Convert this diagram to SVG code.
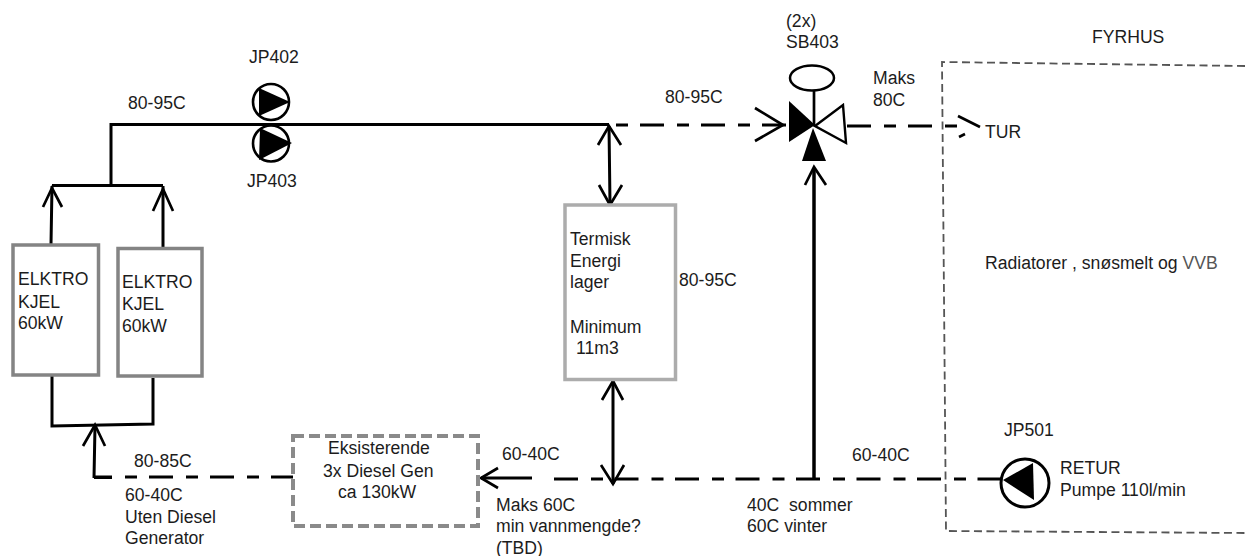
<svg xmlns="http://www.w3.org/2000/svg" width="1245" height="556" viewBox="0 0 1245 556">
<style>
text{font-family:"Liberation Sans",Arial,sans-serif;font-size:17.6px;fill:#1c1c1c}
.p{fill:none;stroke:#000;stroke-width:3}
.w{fill:none;stroke:#000;stroke-width:3.5}
.v{fill:none;stroke:#000;stroke-width:2.7}
.d{fill:none;stroke:#000;stroke-width:3;stroke-dasharray:24 13 12 12}
.box{fill:#fff;stroke:#848484;stroke-width:3.5}
.o{fill:#fff;stroke:#000;stroke-width:2.6}
</style>
<rect width="1245" height="556" fill="#fff"/>
<g id="connectors">
<path class="p" d="M609 124.500H111V185M52 185.500H163M51 244L52 186M163 248V186"/>
<path class="v" d="M43 207L52 188L62 207M153 211L163 189L173 211"/>
<path class="p" d="M52 376V426L153 424V378M94 478L95 426M94 477.500H112"/>
<path class="v" d="M83 446L95 425L105 446"/>
<path class="d" d="M94 477H295" style="stroke-dashoffset:6"/>
<path class="d" d="M616 125H786" style="stroke-dashoffset:37"/>
<path class="v" d="M755 108L783 125L755 141"/>
<path class="d" d="M847 126H958"/>
<path class="v" d="M958 116L980 127M959 137L965 134"/>
<path class="p" d="M609 126L610 204M613 381V484"/>
<path class="v" d="M598 145L609 126L621 145M599 185L610 205L622 185M602 400L613 381L623 400M601 465L613 484L624 465"/>
<path class="w" d="M814 478V169"/>
<path class="v" d="M805 185L814 167L826 185"/>
<path class="d" d="M554 479H1003" style="stroke-dasharray:24 13 12 11.500"/>
<path class="v" d="M498 468L481 478L498 488"/>
<path class="p" d="M481 478H532"/>
</g>
<g id="elkto1"><rect class="box" x="13" y="245" width="85.500" height="130"/><text x="18" y="285">ELKTRO</text><text x="18" y="308">KJEL</text><text x="18" y="329">60kW</text></g>
<g id="elkto2"><rect class="box" x="118" y="248.500" width="84" height="127.500"/><text x="122" y="288">ELKTRO</text><text x="122" y="310">KJEL</text><text x="122" y="332">60kW</text></g>
<g id="lager"><rect x="565" y="205" width="110.500" height="174.500" fill="#fff" stroke="#acacac" stroke-width="3.500"/><text x="570" y="245">Termisk</text><text x="570" y="267">Energi</text><text x="570" y="288">lager</text><text x="570" y="333">Minimum</text><text x="576" y="354">11m3</text></g>
<g id="diesel"><rect x="293" y="436" width="185" height="90" fill="#fff" stroke="#8a8a8a" stroke-width="4" stroke-dasharray="11 5"/><text x="328" y="454">Eksisterende</text><text x="323" y="477">3x Diesel Gen</text><text x="338" y="498">ca 130kW</text></g>
<g id="jp402"><circle class="o" cx="271" cy="102" r="18"/><path d="M259 88L290 102L259 116Z"/><text x="249" y="63">JP402</text></g>
<g id="jp403"><circle class="o" cx="271" cy="143.500" r="18"/><path d="M260 128L292 143L259 160Z"/><text x="247" y="187">JP403</text></g>
<g id="sb403"><text x="786" y="27">(2x)</text><text x="786" y="48">SB403</text><ellipse cx="812" cy="78" rx="22" ry="12.500" fill="#fff" stroke="#000" stroke-width="2.500"/><path class="v" d="M814 90V126"/><path d="M789 101L815 125L789 142Z"/><path d="M815 126L843 105L846 143Z" fill="#fff" stroke="#000" stroke-width="2.400"/><path d="M813 128L802 161H826Z"/></g>
<g id="jp501"><circle class="o" cx="1025" cy="483" r="24" style="stroke-width:3"/><path d="M1003 480L1033 463L1034 500Z"/><text x="1004" y="436">JP501</text><text x="1060" y="474">RETUR</text><text x="1060" y="496">Pumpe 110l/min</text></g>
<g id="fyrhus"><path d="M1245 66L942 62L946 531L1245 533" fill="none" stroke="#555" stroke-width="1.800" stroke-dasharray="8 4.500"/><text x="1092" y="43">FYRHUS</text><text x="985" y="269">Radiatorer , snøsmelt og <tspan fill="#555">VVB</tspan></text></g>
<g id="labels">
<text x="128" y="109">80-95C</text><text x="665" y="103">80-95C</text><text x="679" y="286">80-95C</text>
<text x="873" y="84">Maks</text><text x="873" y="106">80C</text><text x="985" y="138">TUR</text>
<text x="134" y="467">80-85C</text><text x="125" y="501">60-40C</text><text x="125" y="523">Uten Diesel</text><text x="125" y="544">Generator</text>
<text x="502" y="460">60-40C</text><text x="496" y="511">Maks 60C</text><text x="496" y="532">min vannmengde?</text><text x="496" y="554">(TBD)</text>
<text x="852" y="461">60-40C</text><text x="747" y="511" xml:space="preserve">40C  sommer</text><text x="747" y="532">60C vinter</text>
</g>
</svg>
